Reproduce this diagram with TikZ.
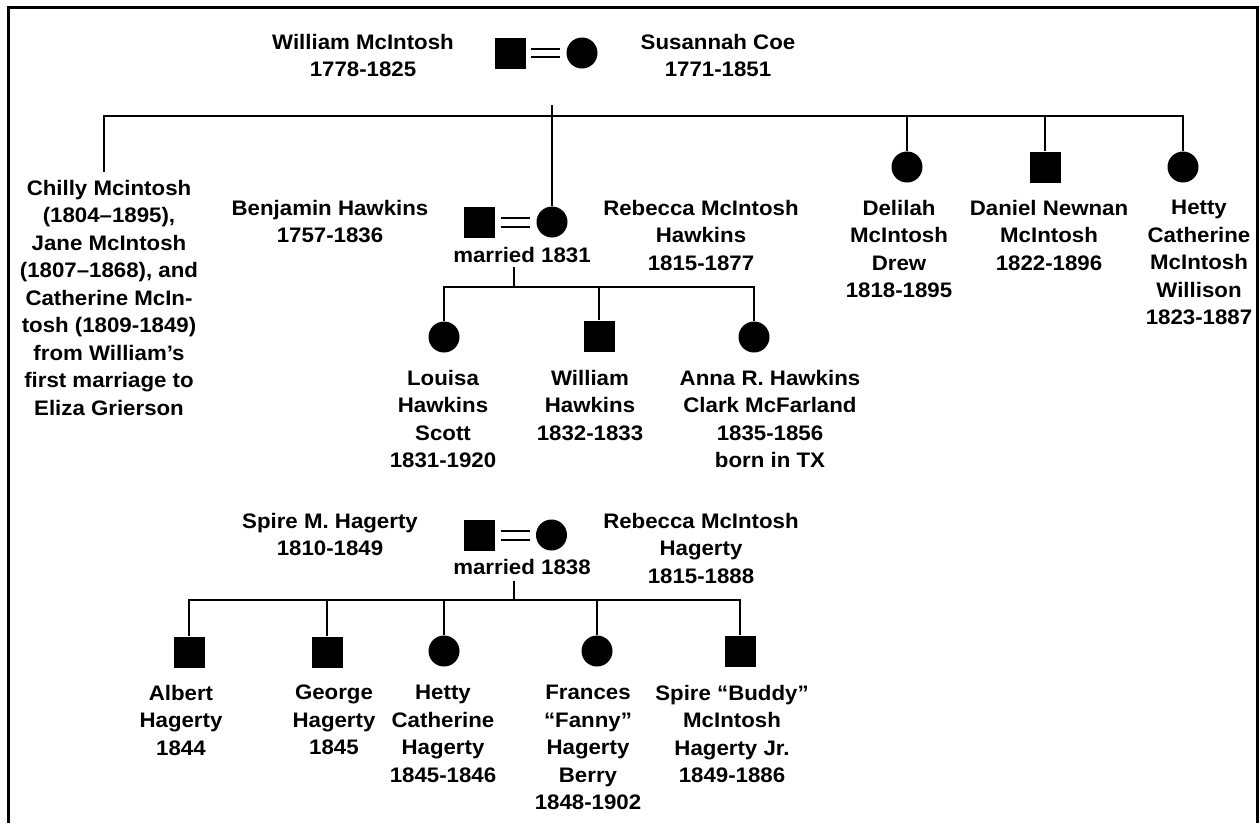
\documentclass[tikz,border=0pt]{standalone}
\usepackage{fontspec}
\setmainfont{Liberation Sans}[FakeStretch=1.06]
\begin{document}
\begin{tikzpicture}[x=1pt,y=-1pt,
  conn/.style={line width=1.8pt},
  eqline/.style={line width=2pt},
  male/.style={draw=none,fill=black,minimum size=31pt,inner sep=0pt,rectangle},
  female/.style={draw=none,fill=black,minimum size=31pt,inner sep=0pt,circle},
  lbl/.style={align=center,inner sep=0pt,anchor=north,font=\fontsize{21}{27.5}\selectfont\bfseries}]
\useasboundingbox (0,0) rectangle (1259,823);
% frame (open at bottom)
\draw[line width=3pt] (8.5,823) -- (8.5,7.5) -- (1257,7.5) -- (1257,823);

% ---- top couple
\node[male] (wm) at (510,53) {};
\node[female] (sc) at (582,53) {};
\draw[eqline] ([xshift=5pt,yshift=4pt]wm.east) -- ([xshift=-6pt,yshift=4pt]sc.west);
\draw[eqline] ([xshift=5pt,yshift=-4pt]wm.east) -- ([xshift=-6pt,yshift=-4pt]sc.west);
\node[lbl] (wmt) at (363,34) {William McIntosh\\1778-1825};
\node[lbl] (sct) at (718,34) {Susannah Coe\\1771-1851};

% ---- children of William
\node[lbl] (chilly) at (109,180) {Chilly Mcintosh\\(1804–1895),\\Jane McIntosh\\(1807–1868), and\\Catherine McIn-\\tosh (1809-1849)\\from William’s\\first marriage to\\Eliza Grierson};
\node[female] (dl) at (907,167) {};
\node[male] (dn) at (1045,167) {};
\node[female] (ht) at (1183,167) {};
\node[lbl] (dlt) at (899,200) {Delilah\\McIntosh\\Drew\\1818-1895};
\node[lbl] (dnt) at (1049,200) {Daniel Newnan\\McIntosh\\1822-1896};
\node[lbl] (htt) at (1199,200) {Hetty\\Catherine\\McIntosh\\Willison\\1823-1887};

% ---- Hawkins couple
\node[male] (bh) at (479,222) {};
\node[female] (rh) at (552,222) {};
\draw[eqline] ([xshift=6pt,yshift=4.5pt]bh.east) -- ([xshift=-6pt,yshift=4.5pt]rh.west);
\draw[eqline] ([xshift=6pt,yshift=-4.5pt]bh.east) -- ([xshift=-6pt,yshift=-4.5pt]rh.west);
\node[lbl] (bht) at (330,200) {Benjamin Hawkins\\1757-1836};
\node[lbl] (rht) at (701,200) {Rebecca McIntosh\\Hawkins\\1815-1877};
\node[lbl] (m1831) at (522,247) {married 1831};

\node[female] (lo) at (444,337) {};
\node[male] (wh) at (599,336) {};
\node[female] (an) at (754,337) {};
\node[lbl] (lot) at (443,370) {Louisa\\Hawkins\\Scott\\1831-1920};
\node[lbl] (wht) at (590,370) {William\\Hawkins\\1832-1833};
\node[lbl] (ant) at (770,370) {Anna R. Hawkins\\Clark McFarland\\1835-1856\\born in TX};

% ---- Hagerty couple
\node[male] (sh) at (479,535) {};
\node[female] (rg) at (551.5,535) {};
\draw[eqline] ([xshift=6pt,yshift=4.5pt]sh.east) -- ([xshift=-6pt,yshift=4.5pt]rg.west);
\draw[eqline] ([xshift=6pt,yshift=-4.5pt]sh.east) -- ([xshift=-6pt,yshift=-4.5pt]rg.west);
\node[lbl] (sht) at (330,513) {Spire M. Hagerty\\1810-1849};
\node[lbl] (rgt) at (701,513) {Rebecca McIntosh\\Hagerty\\1815-1888};
\node[lbl] (m1838) at (522,559) {married 1838};

\node[male] (al) at (189,652) {};
\node[male] (ge) at (327,652) {};
\node[female] (hh) at (444,651) {};
\node[female] (fr) at (597,651) {};
\node[male] (sp) at (740,651) {};
\node[lbl] (alt) at (181,685) {Albert\\Hagerty\\1844};
\node[lbl] (get) at (334,685) {George\\Hagerty\\1845};
\node[lbl] (hht) at (443,685) {Hetty\\Catherine\\Hagerty\\1845-1846};
\node[lbl] (frt) at (588,685) {Frances\\“Fanny”\\Hagerty\\Berry\\1848-1902};
\node[lbl] (spt) at (732,685) {Spire “Buddy”\\McIntosh\\Hagerty Jr.\\1849-1886};

% ---- connectors, William's children
\coordinate (topstub) at (552,105);
\coordinate (barL) at (104,116);
\coordinate (chillytop) at (104,172);
\draw[conn] (topstub) -- (rh.north);
\draw[conn] (chillytop) -- (barL) -- (ht.north |- barL) -- (ht.north);
\draw[conn] (dl.north |- barL) -- (dl.north);
\draw[conn] (dn.north |- barL) -- (dn.north);

% ---- connectors, Hawkins children
\coordinate (hm) at (514,267);
\coordinate (hbar) at (514,287);
\draw[conn] (hm) -- (hbar);
\draw[conn] (lo.north) -- (lo.north |- hbar) -- (an.north |- hbar) -- (an.north);
\draw[conn] (wh.north |- hbar) -- (wh.north);

% ---- connectors, Hagerty children
\coordinate (gm) at (514,581);
\coordinate (gbar) at (514,600);
\draw[conn] (gm) -- (gbar);
\draw[conn] (al.north) -- (al.north |- gbar) -- (sp.north |- gbar) -- (sp.north);
\draw[conn] (ge.north |- gbar) -- (ge.north);
\draw[conn] (hh.north |- gbar) -- (hh.north);
\draw[conn] (fr.north |- gbar) -- (fr.north);
\end{tikzpicture}
\end{document}
